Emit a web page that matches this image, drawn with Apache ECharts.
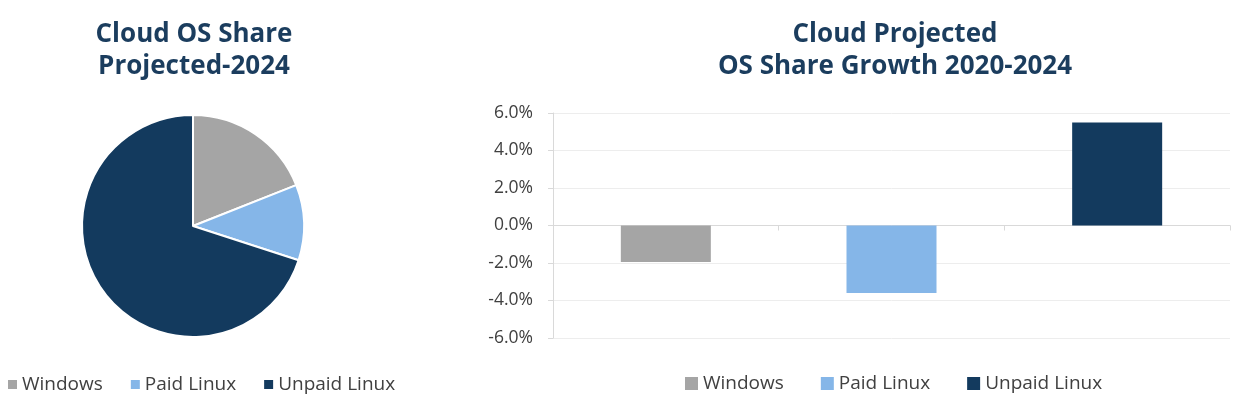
<!DOCTYPE html>
<html>
<head>
<meta charset="utf-8">
<script src="https://cdn.jsdelivr.net/npm/echarts@6/dist/echarts.min.js"></script>
<style>
html,body{margin:0;padding:0;background:#fff;}
#c{width:1248px;height:416px;}
</style>
</head>
<body>
<div id="c"></div>
<script>
const categories = ['Windows', 'Paid Linux', 'Unpaid Linux'];
const pieShare2024 = [19, 11, 70];
const growth2020to2024 = [-1.95, -3.6, 5.5];
const colors = ['#A5A5A5', '#85B6E8', '#133A5E'];
const pieTitle = 'Cloud OS Share\nProjected-2024';
const barTitle = 'Cloud Projected\nOS Share Growth 2020-2024';

const FONT = '"Open Sans", "DejaVu Sans", sans-serif';
const chart = echarts.init(document.getElementById('c'), null, {renderer: 'canvas'});

const titleStyle = {fontFamily: FONT, fontWeight: 'bold', fontSize: 26, color: '#1B3D5E', lineHeight: 32, align: 'center'};

chart.setOption({
  animation: false,
  textStyle: {fontFamily: FONT},
  title: [
    {text: pieTitle, left: 189, top: 14, textAlign: 'center', textStyle: titleStyle},
    {text: barTitle, left: 890, top: 14, textAlign: 'center', textStyle: titleStyle}
  ],
  legend: [
    {
      data: categories, left: 3, top: 370, icon: 'rect',
      itemWidth: 9, itemHeight: 9, itemGap: 28,
      itemStyle: {borderWidth: 0},
      textStyle: {fontSize: 19, color: '#404040', fontFamily: FONT}
    },
    {
      data: categories, left: 680, top: 369, icon: 'rect',
      itemWidth: 13, itemHeight: 13, itemGap: 37,
      itemStyle: {borderWidth: 0},
      textStyle: {fontSize: 19, color: '#404040', fontFamily: FONT}
    }
  ],
  grid: {left: 553, right: 18, top: 113, bottom: 78, containLabel: false},
  xAxis: {
    type: 'category', data: categories, boundaryGap: true,
    axisLine: {onZero: true, lineStyle: {color: '#D9D9D9', width: 1}},
    axisTick: {show: true, length: 5, lineStyle: {color: '#D9D9D9'}},
    axisLabel: {show: false}
  },
  yAxis: {
    type: 'value', min: -6, max: 6, interval: 2,
    axisLine: {show: true, lineStyle: {color: '#D9D9D9'}},
    axisTick: {show: true, length: 5, lineStyle: {color: '#D9D9D9'}},
    splitLine: {show: true, lineStyle: {color: '#EDEDED'}},
    axisLabel: {formatter: v => v.toFixed(1) + '%', fontSize: 17.5, color: '#404040', margin: 20, fontFamily: FONT}
  },
  series: [
    {
      type: 'pie', name: 'share', center: [193, 226], radius: 111,
      startAngle: 90, clockwise: true,
      label: {show: false}, labelLine: {show: false},
      itemStyle: {borderColor: '#fff', borderWidth: 2},
      emphasis: {disabled: true},
      data: categories.map((c, i) => ({name: c, value: pieShare2024[i], itemStyle: {color: colors[i]}}))
    },
    {
      type: 'bar', name: 'growth', barWidth: 90,
      data: growth2020to2024.map((v, i) => ({value: v, itemStyle: {color: colors[i]}}))
    }
  ]
});
</script>
</body>
</html>
